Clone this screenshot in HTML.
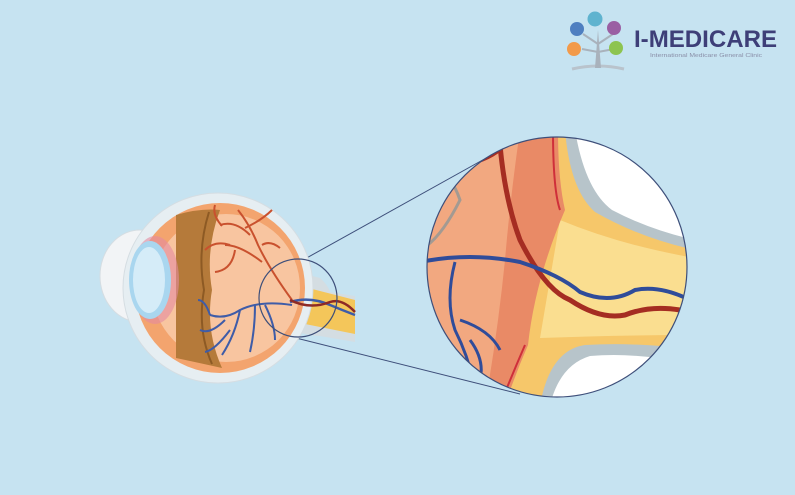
<!DOCTYPE html>
<html><head><style>
html,body{margin:0;padding:0;background:#c6e3f1;}
svg{display:block}
</style></head><body>
<svg width="795" height="495" viewBox="0 0 795 495" xmlns="http://www.w3.org/2000/svg">
<rect width="795" height="495" fill="#c6e3f1"/>
<!-- logo -->
<g>
<path d="M572 69 Q598 63 624 69" stroke="#b9c3cc" stroke-width="3" fill="none"/>
<path d="M595 68 L598 30 L601 68Z" fill="#a9b2bc"/>
<line x1="598" y1="44" x2="583" y2="34" stroke="#a9b2bc" stroke-width="2"/>
<line x1="598" y1="44" x2="613" y2="34" stroke="#a9b2bc" stroke-width="2"/>
<line x1="598" y1="52" x2="582" y2="49" stroke="#a9b2bc" stroke-width="2"/>
<line x1="598" y1="52" x2="614" y2="49" stroke="#a9b2bc" stroke-width="2"/>
<circle cx="577" cy="29" r="7" fill="#4f7fc0"/>
<circle cx="595" cy="19" r="7.5" fill="#5fb3cf"/>
<circle cx="614" cy="28" r="7" fill="#9a5fa3"/>
<circle cx="574" cy="49" r="7" fill="#f29a4a"/>
<circle cx="616" cy="48" r="7" fill="#8dc450"/>
<text x="634" y="47" font-family="Liberation Sans, sans-serif" font-size="24" font-weight="bold" fill="#3e3f78" textLength="143" lengthAdjust="spacingAndGlyphs">I-MEDICARE</text>
<text x="650" y="57" font-family="Liberation Sans, sans-serif" font-size="5.5" fill="#8a8fa8" textLength="112" lengthAdjust="spacingAndGlyphs">International Medicare General Clinic</text>
</g>
<!-- connector lines -->
<line x1="294" y1="265" x2="497" y2="152" stroke="#3e4f7a" stroke-width="1"/>
<line x1="292" y1="337" x2="520" y2="394" stroke="#3e4f7a" stroke-width="1"/>
<!-- eye -->
<g>
<path d="M282 268 L320 278 Q328 285 330 292 L355 296 L355 342 L320 336 Q300 335 285 326Z" fill="#d4dde2"/>
<path d="M285 282 L355 300 L355 334 L285 320Z" fill="#f4c65a"/>
<ellipse cx="140" cy="276" rx="40" ry="46" fill="#f2f4f6" stroke="#d5dde2"/>
<ellipse cx="148" cy="278" rx="24" ry="36" fill="#cfd5da"/>
<circle cx="218" cy="288" r="95" fill="#e6eef2" stroke="#d5dde2"/>
<circle cx="220" cy="288" r="85" fill="#f3a46e"/>
<circle cx="226" cy="288" r="74" fill="#f8c5a0"/>
<path d="M176 215 Q200 208 220 210 Q205 250 212 290 Q205 330 222 368 Q195 362 176 358Z" fill="#b57a3a"/>
<path d="M209 212 Q197 250 204 290 Q197 330 212 364" stroke="#8d5a24" stroke-width="2" fill="none"/>
<ellipse cx="155" cy="280" rx="24" ry="44" fill="#e58aa0" opacity="0.6"/>
<ellipse cx="150" cy="280" rx="21" ry="39" fill="#a9d6ef"/>
<ellipse cx="149" cy="280" rx="16" ry="33" fill="#d5ecf8"/>
<g stroke="#c9512e" stroke-width="2" fill="none">
<path d="M292 300 Q270 270 258 245 Q250 225 238 210"/>
<path d="M262 262 Q240 245 225 245 M250 235 Q235 220 220 225 M235 250 Q232 270 215 272 M245 228 Q262 220 272 210"/>
<path d="M230 245 Q215 240 205 250 M222 226 Q212 215 215 205 M262 245 Q270 240 280 248"/>
</g>
<g stroke="#3e5ca8" stroke-width="2" fill="none">
<path d="M292 305 Q260 300 240 310 Q225 320 210 315"/>
<path d="M240 310 Q235 335 222 355 M255 305 Q255 330 250 352 M225 320 Q210 335 200 330 M230 330 Q215 350 205 352"/>
<path d="M265 305 Q275 325 275 340 M210 315 Q205 300 198 300"/>
</g>
<path d="M290 302 Q310 296 330 305 Q342 310 355 315" stroke="#3e5ca8" stroke-width="2.5" fill="none"/>
<path d="M290 300 Q310 310 330 302 Q342 298 355 312" stroke="#8e2a25" stroke-width="2.5" fill="none"/>
<circle cx="298" cy="298" r="39" fill="none" stroke="#3e4f7a" stroke-width="1.2"/>
</g>
<!-- magnified -->
<defs><clipPath id="c"><circle cx="557" cy="267" r="130"/></clipPath></defs>
<g clip-path="url(#c)">
<rect x="420" y="130" width="275" height="275" fill="#ffffff"/>
<!-- gray sheaths -->
<path d="M420 130 L575 130 Q585 190 612 210 Q650 230 695 240 L695 365 Q640 352 590 356 Q560 365 550 405 L420 405Z" fill="#b7c4ca"/>
<!-- yellow nerve + layers -->
<path d="M420 130 L565 130 Q570 190 595 212 Q640 238 695 250 L695 350 Q640 342 585 345 Q550 350 540 405 L420 405Z" fill="#f6c76a"/>
<path d="M560 220 Q620 245 695 258 L695 335 Q620 335 540 338 Z" fill="#fbe39a" opacity="0.8"/>
<!-- retina -->
<path d="M420 130 L558 130 Q558 180 565 210 Q535 280 528 345 Q515 375 505 405 L420 405Z" fill="#e98a66"/>
<path d="M420 130 L520 130 Q510 200 505 260 Q498 330 485 405 L420 405Z" fill="#f2a880"/>
<path d="M420 150 Q450 170 460 200 Q440 240 420 250" stroke="#8f9696" stroke-width="3" fill="none" opacity="0.8"/>
<path d="M500 145 Q505 200 520 240 Q545 290 570 300 Q600 320 625 315 Q650 305 680 310" stroke="#a52d22" stroke-width="5" fill="none"/>
<path d="M466 164 Q490 160 505 145" stroke="#a52d22" stroke-width="4" fill="none"/>
<path d="M420 262 Q470 252 520 262 Q560 275 580 292 Q610 305 635 290 Q660 285 690 300" stroke="#2f4c9a" stroke-width="4" fill="none"/>
<path d="M455 262 Q445 300 455 330 Q470 360 475 390 M460 320 Q490 330 500 350 M470 340 Q485 360 480 380" stroke="#2f4c9a" stroke-width="3" fill="none"/>
<path d="M553 130 Q553 190 560 210" stroke="#cf2f3a" stroke-width="2" fill="none"/>
<path d="M525 345 Q512 375 500 405" stroke="#cf2f3a" stroke-width="2" fill="none"/>
</g>
<circle cx="557" cy="267" r="130" fill="none" stroke="#3e4f7a" stroke-width="1.2"/>
</svg>
</body></html>
